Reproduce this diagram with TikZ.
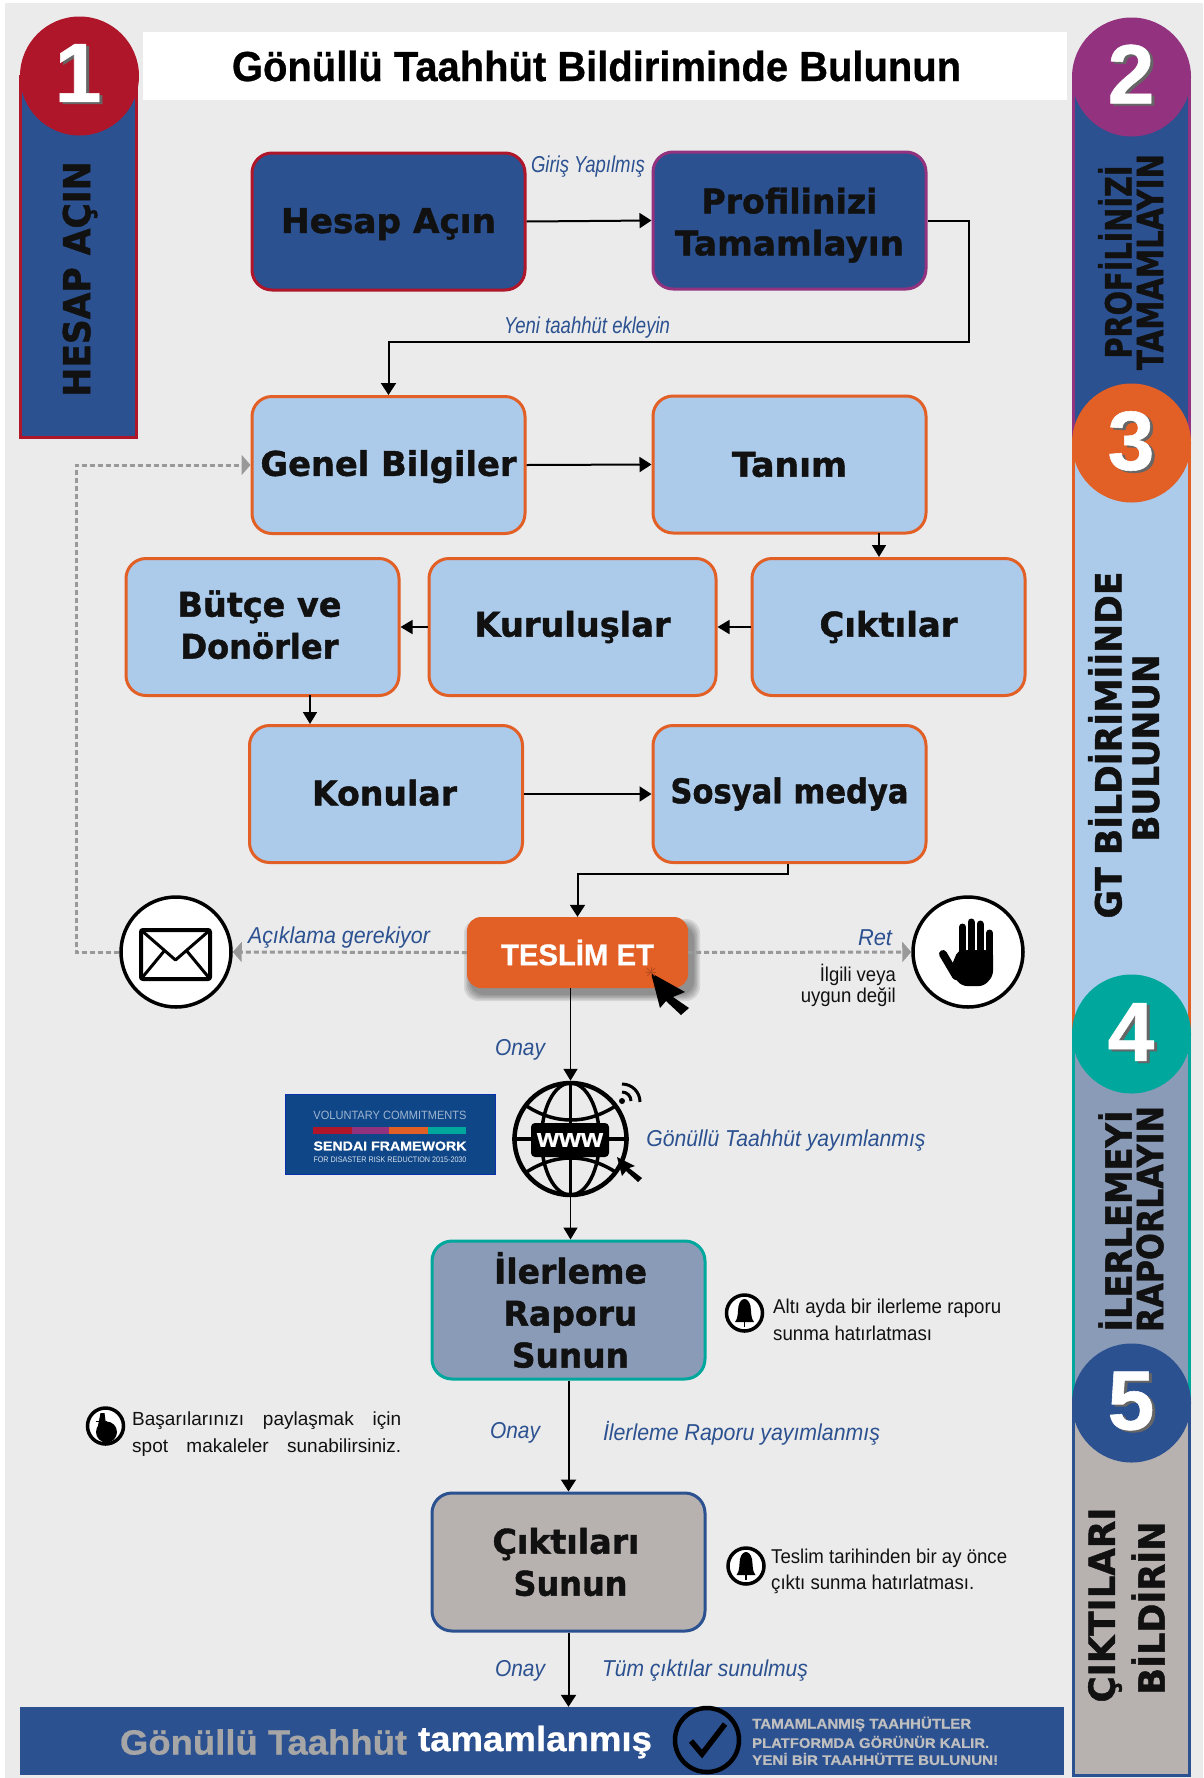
\documentclass[tikz,border=0pt]{standalone}
\usepackage{fontspec}
\usepackage{graphicx}
\usetikzlibrary{arrows.meta}
\setmainfont{Liberation Sans}[BoldFeatures={FakeBold=0.7}]
\newfontfamily\heavy{DejaVu Sans}[BoldFeatures={FakeBold=1.3}]
\definecolor{blu}{HTML}{2B5190}
\definecolor{lblue}{HTML}{ACCAEA}
\definecolor{orng}{HTML}{E25F26}
\definecolor{redd}{HTML}{B0162A}
\definecolor{magn}{HTML}{93327F}
\definecolor{teal2}{HTML}{00A79D}
\definecolor{slate}{HTML}{8A9BB7}
\definecolor{taupe}{HTML}{B7B1B0}
\definecolor{bgg}{HTML}{EBEBEB}
\definecolor{ink}{HTML}{111111}
\definecolor{logo}{HTML}{0E4688}
\newcommand\hv[3]{\resizebox{#1pt}{\height}{\fontsize{#2}{#2}\selectfont\heavy\bfseries #3}}
\newcommand\lab[2]{\resizebox{#1pt}{\height}{\fontsize{23}{26}\selectfont\itshape #2}}
\newcommand\nt[2]{\resizebox{#1pt}{\height}{\fontsize{20}{24}\selectfont #2}}
\newcommand\pushdown[1]{\rule{0pt}{#1pt}}
\newcommand\pushup[1]{\rule[-#1pt]{0pt}{0pt}}
\tikzset{
  x=1pt,y=-1pt,
  boxshape/.style={rounded corners=20pt,line width=3pt,inner sep=0pt,align=center,text=ink,
    minimum width=273pt,minimum height=137pt,font=\fontsize{34}{42}\selectfont},
  lightbox/.style={boxshape,draw=orng,fill=lblue},
  conn/.style={draw=black,line width=2pt,-{Triangle[width=15pt,length=12pt]}},
  thin conn/.style={draw=black,line width=1.6pt,-{Triangle[width=14pt,length=12pt]}},
  ret/.style={draw=gray!80,line width=3pt,dash pattern=on 5pt off 3pt,-{Triangle[width=20pt,length=9pt,fill=gray!80]}},
  lbl/.style={inner sep=0pt,text=blu},
  note/.style={inner sep=0pt,text=ink},
  bar/.style={line width=3pt,inner sep=0pt,minimum width=116pt},
  numdisc/.style={circle,inner sep=0pt,minimum size=119pt},
  numtxt/.style={inner sep=0pt,text=white,font=\fontsize{84}{84}\selectfont\bfseries},
  numshadow/.style={inner sep=0pt,text=black!60,font=\fontsize{84}{84}\selectfont\bfseries},
  sidetxt/.style={inner sep=0pt,rotate=90,text=ink},
  icondisc/.style={circle,draw=black,line width=3.5pt,fill=white,inner sep=0pt,minimum size=110pt},
  smalldisc/.style={circle,draw=black,line width=3.5pt,fill=white,inner sep=0pt,minimum size=36pt},
}
\begin{document}
\begin{tikzpicture}
\useasboundingbox (0,0) rectangle (1203,1778);
\fill[bgg] (5,3) rectangle (1203,1778);
% title
\node[fill=white,minimum width=924pt,minimum height=68pt,inner sep=0pt] (title) at (605,66)
  {\raisebox{-3pt}{\resizebox{729pt}{\height}{\fontsize{42}{42}\selectfont\bfseries Gönüllü Taahhüt Bildiriminde Bulunun}}\kern17pt};
% left bar
\node[bar,draw=redd,fill=blu,minimum height=361pt] (bar1) at (78.5,256.5) {};
\node[numdisc,fill=redd] (c1) at (79.5,76) {};
\node[numshadow] at (81,75) {1};
\node[numtxt] (d1) at (78,73) {1};
\node[sidetxt] (s1) at (80,279) {\hv{235}{37}{HESAP AÇIN}};
% right bars
\node[bar,draw=magn,fill=blu,minimum height=366pt] (bar2) at (1131.5,260) {};
\node[bar,draw=orng,fill=lblue,minimum height=591pt] (bar3) at (1131.5,738.5) {};
\node[bar,draw=teal2,fill=slate,minimum height=369pt] (bar4) at (1131.5,1218.5) {};
\node[bar,draw=blu,fill=taupe,minimum height=372pt] (bar5) at (1131.5,1589) {};
\node[numdisc,fill=magn] (c2) at (1131.5,77) {};
\node[numdisc,fill=orng] (c3) at (1131.5,443) {};
\node[numdisc,fill=teal2] (c4) at (1131.5,1034) {};
\node[numdisc,fill=blu] (c5) at (1131.5,1403) {};
\foreach \d/\yy in {2/74,3/441,4/1032,5/1401}{
  \node[numshadow] at (1134,\yy+2) {\d};
  \node[numtxt] at (1131,\yy) {\d};
}
\node[sidetxt] (s2a) at (1115,262) {\hv{193}{36}{PROFİLİNİZİ}};
\node[sidetxt] (s2b) at (1150,262) {\hv{216}{36}{TAMAMLAYIN}};
\node[sidetxt] (s3a) at (1105,745) {\hv{347}{36}{GT BİLDİRİMİİNDE}};
\node[sidetxt] (s3b) at (1146,748) {\hv{187}{36}{BULUNUN}};
\node[sidetxt] (s4a) at (1115,1221) {\hv{221}{36}{İLERLEMEYİ}};
\node[sidetxt] (s4b) at (1150,1219) {\hv{226}{36}{RAPORLAYIN}};
\node[sidetxt] (s5a) at (1105,1605) {\hv{195}{36}{ÇIKTILARI}};
\node[sidetxt] (s5b) at (1148,1608) {\hv{173}{36}{BİLDİRİN}};
% flow boxes
\node[boxshape,draw=redd,fill=blu] (hesap) at (388.5,221.5) {\pushdown{30}\hv{215}{34}{Hesap Açın}};
\node[boxshape,draw=magn,fill=blu] (profil) at (789.5,220.5) {\pushdown{35}\hv{176}{34}{Profilinizi}\\\hv{229}{34}{Tamamlayın}};
\node[lightbox] (genel) at (388.5,465) {\pushdown{29}\hv{256}{34}{Genel Bilgiler}};
\node[lightbox] (tanim) at (789.5,464.5) {\hv{115}{34}{Tanım}};
\node[lightbox] (butce) at (262.5,627) {\hspace{-6pt}\hv{164}{34}{Bütçe ve}\\\hspace{-6pt}\hv{158}{34}{Donörler}\pushup{5}};
\node[lightbox,minimum width=287pt] (kurul) at (572.5,627) {\hv{196}{34}{Kuruluşlar}};
\node[lightbox] (cikt) at (888.5,627) {\hv{138}{34}{Çıktılar}};
\node[lightbox] (konu) at (386,794) {\pushup{3}\hv{145}{34}{Konular}\kern3pt};
\node[lightbox] (sosyal) at (789.5,794) {\hv{238}{34}{Sosyal medya}};
\node[boxshape,draw=teal2,fill=slate,minimum height=138pt] (iler) at (568.5,1310) {\hspace{4pt}\hv{153}{34}{İlerleme}\\\hspace{4pt}\hv{134}{34}{Raporu}\\\hspace{4pt}\hv{117}{34}{Sunun}};
\node[boxshape,draw=blu,fill=taupe,minimum height=138pt] (ciktisun) at (568.5,1562) {\hspace{-5pt}\hv{147}{34}{Çıktıları}\\\hspace{4pt}\hv{114}{34}{Sunun}};
% soft shadow of the submit button
\foreach \gr in {0,1.5,3,4.5,6}
  \fill[black,opacity=.09,rounded corners=14pt] (470-\gr,925-\gr) rectangle (694+\gr,995+\gr);
\node[fill=orng,rounded corners=14pt,inner sep=0pt,minimum width=221pt,minimum height=71pt,
  text=white] (teslim) at (577.5,952.5)
  {\resizebox{153pt}{\height}{\fontsize{30}{30}\selectfont\bfseries TESLİM ET}};
% icon discs
\node[icondisc] (env) at (176,952) {};
\node[icondisc] (hand) at (968,952) {};
% bottom band
\node[fill=blu,inner sep=0pt,minimum width=1044pt,minimum height=68pt] (son) at (542,1741) {};
% globe and logo
\node[circle,draw=black,line width=4.5pt,inner sep=0pt,minimum size=112pt] (globe) at (570.5,1139) {};
\node[fill=logo,draw=blue!30!logo,line width=.5pt,inner sep=0pt,minimum width=210pt,minimum height=80pt] (logo) at (390,1134) {};
% connectors
\draw[conn] (hesap.east) -- (profil.west);
\coordinate (t1) at (969,220.5);
\coordinate (t2) at (969,342);
\draw[conn] (profil.east) -- (t1) -- (t2) -| (genel.north);
\draw[conn] (genel.east) -- (tanim.west);
\coordinate (t3) at (879,533);
\draw[thin conn] (t3) -- (t3 |- cikt.north);
\draw[thin conn] (cikt.west) -- (kurul.east);
\draw[thin conn] (kurul.west) -- (butce.east);
\coordinate (t4) at (310,695);
\draw[thin conn] (t4) -- (t4 |- konu.north);
\draw[conn] (konu.east) -- (sosyal.west);
\coordinate (t5) at (788,874);
\draw[conn] (t5 |- sosyal.south) -- (t5) -| (teslim.north);
\draw[thin conn] (globe.north |- teslim.south) -- (globe.north);
\draw[thin conn] (globe.south) -- (globe.south |- iler.north);
\draw[conn] (iler.south) -- (ciktisun.north);
\draw[conn] (ciktisun.south) -- (ciktisun.south |- son.north);
% dashed connectors
\draw[ret] (teslim.west) -- (env.east);
\draw[ret] (teslim.east) -- (hand.west);
\coordinate (t6) at (76,952);
\draw[ret] (env.west) -- (t6) |- (genel.west);
% labels
\node[lbl] (l1) at (588,167) {\lab{114}{Giriş Yapılmış}};
\node[lbl] (l2) at (587,328) {\lab{166}{Yeni taahhüt ekleyin}};
\node[lbl] (l3) at (339,938) {\lab{182}{Açıklama gerekiyor}};
\node[lbl] (l4) at (875,938) {\lab{34}{Ret}};
\node[note,anchor=east] (n1) at (896,975) {\nt{76}{İlgili veya}};
\node[note,anchor=east] (n2) at (896,997) {\nt{95}{uygun değil}};
\node[lbl] (l5) at (520,1050) {\lab{50}{Onay}};
\node[lbl] (l6) at (786,1141) {\lab{279}{Gönüllü Taahhüt yayımlanmış}};
\node[lbl] (l7) at (515,1433) {\lab{50}{Onay}};
\node[lbl] (l8) at (741.5,1433) {\lab{277}{İlerleme Raporu yayımlanmış}};
\node[lbl] (l9) at (520,1671) {\lab{50}{Onay}};
\node[lbl] (l10) at (705,1671) {\lab{206}{Tüm çıktılar sunulmuş}};
% notes
\node[note,anchor=west] (n3) at (773,1308) {\nt{228}{Altı ayda bir ilerleme raporu}};
\node[note,anchor=west] (n4) at (773,1333) {\nt{159}{sunma hatırlatması}};
\node[note,anchor=west] (n5) at (771,1558) {\nt{236}{Teslim tarihinden bir ay önce}};
\node[note,anchor=west] (n6) at (771,1584) {\nt{203}{çıktı sunma hatırlatması.}};
\node[note,anchor=west] (n7) at (132,1421) {\fontsize{19}{22}\selectfont\makebox[269pt][s]{Başarılarınızı\hfill paylaşmak\hfill için}};
\node[note,anchor=west] (n8) at (132,1448) {\fontsize{19}{22}\selectfont\makebox[269pt][s]{spot\hfill makaleler\hfill sunabilirsiniz.}};
% small discs
\node[smalldisc] (bell1) at (744.5,1313) {};
\node[smalldisc] (bell2) at (746,1566) {};
\node[smalldisc] (finger) at (105.5,1426) {};
\foreach \c in {bell1,bell2}{
  \begin{scope}[shift={(\c.center)}]
    \fill[black] (-9.5,9) .. controls (-6,5) and (-7,-1) .. (-6,-7) .. controls (-5,-12) and (-2,-14) .. (0,-14)
      .. controls (2,-14) and (5,-12) .. (6,-7) .. controls (7,-1) and (6,5) .. (9.5,9) -- cycle;
    \draw[line width=1.2pt] (0,9) -- (0,14);
  \end{scope}
}
\begin{scope}[shift={(finger.center)}]
  \fill[black] (1,6) circle [radius=10.5pt];
  \fill[black] (-5,-13) -- (-1,-13) -- (1,2) -- (-8,2) -- cycle;
  \draw[line width=1pt] (-10,-5) -- (1,-5);
\end{scope}
% envelope
\draw[line width=4pt,rounded corners=2pt] (141,930) rectangle (210,979);
\draw[line width=3pt,line join=round] (141,930) -- (175.5,960) -- (210,930);
\draw[line width=3pt] (141,979) -- (165,950);
\draw[line width=3pt] (210,979) -- (186,950);
% hand
\begin{scope}[line cap=round,line width=7pt]
  \draw (962.5,958) -- (962.5,927);
  \draw (971,958) -- (971,922);
  \draw (980,958) -- (980,924);
  \draw (989.5,958) -- (989.5,933);
  \draw[line width=8pt] (943,954) -- (956,976);
\end{scope}
\fill[black,rounded corners=5pt] (958,950) -- (993,950) -- (993,976) -- (984,986) -- (962,986) -- (949,972) -- cycle;
% teslim cursor
\fill[black] (651,973) -- (685,992) -- (673,997) -- (689,1008) -- (681,1015) -- (666,1001) -- (660,1008) -- cycle;
\foreach \aa/\bb/\cc/\dd in {646/972/656/972,651/967/651/977,647/968/655/976,655/968/647/976}
  \draw[line width=.7pt,orng!80!black] (\aa,\bb) -- (\cc,\dd);
% globe detail
\draw[line width=3.5pt] (globe.north) -- (globe.south);
\draw[line width=3.5pt] (globe.center) ellipse [x radius=29pt,y radius=56pt];
\draw[line width=3.5pt] (globe.west) -- (globe.east);
\draw[line width=3.5pt] (525,1105) .. controls (555,1125) and (587,1125) .. (617,1105);
\draw[line width=3.5pt] (525,1173) .. controls (555,1153) and (587,1153) .. (617,1173);
\node[fill=black,rounded corners=4pt,inner sep=0pt,minimum width=78pt,minimum height=34pt,text=white] (www) at (570,1140)
  {\resizebox{66pt}{\height}{\fontsize{26}{26}\selectfont\bfseries www}};
\coordinate (w0) at (622,1101);
\fill[black] (w0) circle [radius=3pt];
\coordinate (w1) at (622,1092);
\coordinate (w2) at (631,1101);
\coordinate (w3) at (622,1084);
\coordinate (w4) at (640,1102);
\draw[line width=3pt] (w1) .. controls (627,1092) and (631,1096) .. (w2);
\draw[line width=3pt] (w3) .. controls (632,1084) and (640,1092) .. (w4);
\fill[black] (617,1157) -- (635,1166) -- (629,1168) -- (642,1178) -- (638,1182) -- (626,1171) -- (622,1176) -- cycle;
% logo detail
\node[inner sep=0pt,text=white!60!logo] (lg1) at (390,1115) {\resizebox{153pt}{\height}{\fontsize{12}{12}\selectfont VOLUNTARY COMMITMENTS}};
\fill[redd] (313,1127) rectangle (352,1134);
\fill[magn] (352,1127) rectangle (389,1134);
\fill[orng] (389,1127) rectangle (428,1134);
\fill[teal2] (428,1127) rectangle (466,1134);
\node[inner sep=0pt,text=white] (lg2) at (390,1146) {\resizebox{153pt}{\height}{\fontsize{13}{13}\selectfont\bfseries SENDAI FRAMEWORK}};
\node[inner sep=0pt,text=white!85!logo] (lg3) at (390,1160) {\resizebox{153pt}{\height}{\fontsize{8}{8}\selectfont FOR DISASTER RISK REDUCTION 2015-2030}};
% bottom band content
\node[inner sep=0pt,text=gray!70] (b1) at (263.5,1742) {\resizebox{287pt}{\height}{\fontsize{35}{35}\selectfont\bfseries Gönüllü Taahhüt}};
\node[inner sep=0pt,text=white] (b2) at (535,1742) {\resizebox{234pt}{\height}{\fontsize{35}{35}\selectfont\bfseries tamamlanmış}};
\node[circle,draw=black,line width=4.5pt,inner sep=0pt,minimum size=64pt] (chk) at (707,1740) {};
\draw[line width=5.5pt] (691,1741) -- (702,1754) -- (725,1724);
\node[inner sep=0pt,anchor=west,text=gray!50] (b3) at (752,1724) {\resizebox{219pt}{\height}{\fontsize{14}{14}\selectfont\bfseries TAMAMLANMIŞ TAAHHÜTLER}};
\node[inner sep=0pt,anchor=west,text=gray!50] (b4) at (752,1742) {\resizebox{237pt}{\height}{\fontsize{14}{14}\selectfont\bfseries PLATFORMDA GÖRÜNÜR KALIR.}};
\node[inner sep=0pt,anchor=west,text=gray!50] (b5) at (752,1759) {\resizebox{246pt}{\height}{\fontsize{14}{14}\selectfont\bfseries YENİ BİR TAAHHÜTTE BULUNUN!}};
\end{tikzpicture}
\end{document}
